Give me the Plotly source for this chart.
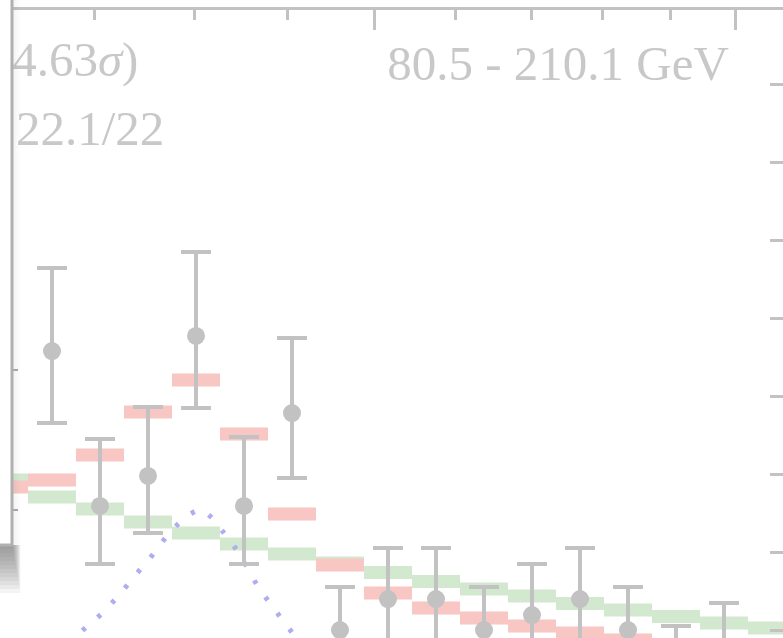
import plotly.graph_objects as go

# ---------------- data ----------------
# bin index (equal-width bins)
band_bins = list(range(0, 17))
# expected background (green) and signal+background (red) per bin, counts
bkg_center = [23.54, 22.23, 21.31, 20.31, 19.46, 18.62, 17.85, 17.15, 16.42,
              15.73, 15.15, 14.62, 14.04, 13.54, 13.04, 12.54, 12.15]
sb_center = [23.0, 23.54, 25.46, 28.77, 31.23, 27.08, 20.92, 17.0, 14.85,
             13.69, 12.92, 12.31, 11.77, 11.23, 10.77, 10.31, 9.85]
band_half = 0.5

# observed data points
data_bins = list(range(1, 17))
data_counts = [33.46, 21.54, 23.85, 34.62, 21.54, 28.69, 12.0, 14.38,
               14.38, 12.0, 13.15, 14.38, 12.0, 9.0, 10.6, 7.0]
err_up = [6.38, 5.15, 5.31, 6.46, 5.31, 5.77, 3.31, 3.92,
          3.92, 3.31, 3.92, 3.92, 3.31, 3.31, 3.48, 2.8]
err_down = [5.54, 4.46, 4.38, 5.54, 4.46, 5.0, 2.9, 3.5,
            3.5, 2.9, 3.5, 3.5, 2.9, 2.9, 3.1, 2.6]

# signal shape (dotted blue curve)
sig_x = [1.375, 1.604, 1.9375, 2.229, 2.5, 2.792, 3.0625, 3.3125, 3.583, 3.917,
         4.104, 4.3125, 4.583, 4.833, 5.0625, 5.271, 5.521, 5.771, 6.021, 6.167]
sig_y = [10.77, 11.85, 12.92, 14.0, 15.15, 16.46, 17.62, 18.85, 20.0, 21.0,
         21.23, 20.69, 19.46, 18.23, 16.85, 15.46, 14.15, 12.92, 11.69, 10.85]

# top axis (mass, GeV, log) tick values
mass_major = [150, 200]
mass_minor = [120, 130, 140, 160, 170, 180, 190]
right_ticks = [12, 18, 24, 30, 36, 42, 48, 54]
left_ticks = [32.0, 21.23]

label_signif = "(4.63<i>σ</i>)"
label_chi2 = "22.1/22"
label_range = "80.5 - 210.1 GeV"

# ---------------- style ----------------
GRAY = "#c2c2c2"
TXT = "#c8c8c8"
RED = "#f8c6c3"
GREEN = "#d3e9cf"
BLUE = "#adadf0"
FONT = "Liberation Serif"

W, H = 783, 638
ML, MR, MT, MB = 12, 0, 10, 0
PW, PH = W - ML - MR, H - MT - MB


def px2paper_x(px):
    return (px - ML) / PW


def px2paper_y(py):
    return (H - MB - py) / PH


fig = go.Figure()

fig.add_trace(go.Bar(
    x=band_bins, y=[2 * band_half] * len(band_bins),
    base=[c - band_half for c in bkg_center], width=1.0,
    marker=dict(color=GREEN, line=dict(width=0)), showlegend=False,
    hoverinfo="skip"))
fig.add_trace(go.Bar(
    x=band_bins, y=[2 * band_half] * len(band_bins),
    base=[c - band_half for c in sb_center], width=1.0,
    marker=dict(color=RED, line=dict(width=0)), showlegend=False,
    hoverinfo="skip"))

fig.add_trace(go.Scatter(
    x=sig_x, y=sig_y, mode="lines",
    line=dict(color=BLUE, width=5, dash="4px,16px", shape="spline"),
    showlegend=False, hoverinfo="skip"))

fig.add_trace(go.Scatter(
    x=data_bins, y=data_counts, mode="markers",
    marker=dict(color=GRAY, size=18),
    error_y=dict(type="data", array=err_up, arrayminus=err_down, symmetric=False,
                 color=GRAY, thickness=4, width=15),
    showlegend=False, hoverinfo="skip"))

# texts (clipped by plot area on the left)
fig.add_trace(go.Scatter(
    x=[2.80, 3.34, 15.1], y=[55.55, 50.25, 55.25], mode="text",
    text=[label_signif, label_chi2, label_range], textposition="middle left",
    textfont=dict(family=FONT, size=49, color=TXT), cliponaxis=True,
    showlegend=False, hoverinfo="skip"))

# invisible traces to anchor the secondary axes
fig.add_trace(go.Scatter(x=[150], y=[30], xaxis="x2", mode="markers",
                         marker=dict(opacity=0), showlegend=False, hoverinfo="skip"))
fig.add_trace(go.Scatter(x=[5], y=[30], yaxis="y2", mode="markers",
                         marker=dict(opacity=0), showlegend=False, hoverinfo="skip"))

yr = [11.385, 59.692]
fig.update_layout(
    width=W, height=H, margin=dict(l=ML, r=MR, t=MT, b=MB, pad=0),
    paper_bgcolor="white", plot_bgcolor="white", barmode="overlay",
    xaxis=dict(range=[0.1667, 16.229], showline=False, showgrid=False, zeroline=False,
               showticklabels=False, ticks=""),
    xaxis2=dict(type="log", overlaying="x", side="top", range=[2.05079, 2.31763],
                showline=True, linecolor=GRAY, linewidth=3, showgrid=False, zeroline=False,
                ticks="inside", ticklen=20, tickwidth=2.5, tickcolor=GRAY,
                tickmode="array", tickvals=mass_major, showticklabels=False,
                minor=dict(tickmode="array", tickvals=mass_minor, ticks="inside",
                           ticklen=10, tickwidth=2.5, tickcolor=GRAY, showgrid=False)),
    yaxis=dict(range=yr, showline=False, showgrid=False, zeroline=False,
               ticks="inside", ticklen=6, tickwidth=2, tickcolor="#a8a8a8",
               tickmode="array", tickvals=left_ticks, showticklabels=False),
    yaxis2=dict(range=yr, overlaying="y", side="right", showline=False, showgrid=False,
                zeroline=False, ticks="inside", ticklen=13, tickwidth=3, tickcolor=GRAY,
                tickmode="array", tickvals=right_ticks, showticklabels=False),
)

# drop shadow of the overlapping panel at the left
shapes = []
for k in range(1, 5):
    shapes.append(dict(type="rect", xref="paper", yref="paper", layer="above",
                       x0=px2paper_x(12), x1=px2paper_x(12 + 2 * k),
                       y0=px2paper_y(545), y1=px2paper_y(-20),
                       fillcolor="rgba(120,120,120,0.025)", line=dict(width=0)))
for k in range(1, 13):
    shapes.append(dict(type="rect", xref="paper", yref="paper", layer="above",
                       x0=px2paper_x(-20), x1=px2paper_x(12 + 0.7 * k),
                       y0=px2paper_y(545 + 4 * k), y1=px2paper_y(545),
                       fillcolor="rgba(90,90,90,0.065)", line=dict(width=0)))
shapes.append(dict(type="rect", xref="paper", yref="paper", layer="above",
                   x0=px2paper_x(-20), x1=px2paper_x(12),
                   y0=px2paper_y(545), y1=px2paper_y(-20),
                   fillcolor="white", line=dict(color="#b0b0b0", width=3)))
fig.update_layout(shapes=shapes)

fig.write_html("out.html")
